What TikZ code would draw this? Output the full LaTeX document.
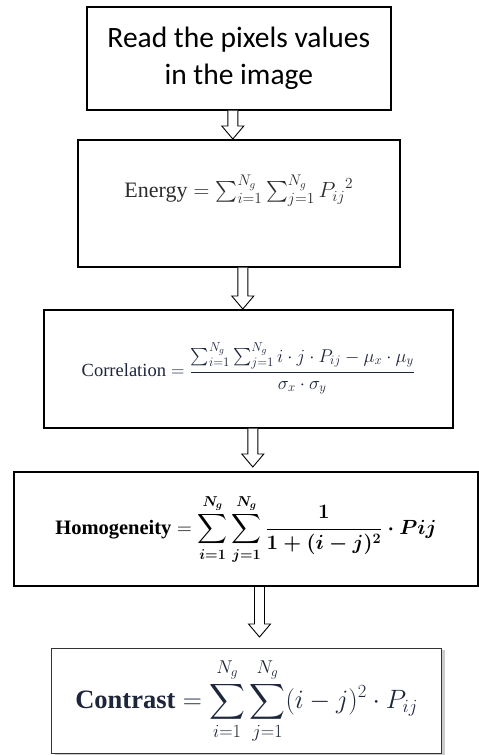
\RequirePackage{fix-cm}
\documentclass[tikz,border=0pt]{standalone}
\usepackage{amsmath}
\usepackage{fontspec}
\setmainfont{Liberation Serif}
\newfontfamily\calibri{Carlito}
\usetikzlibrary{calc,shadows}
\definecolor{inkgray}{RGB}{45,45,45}
\definecolor{inknavy}{RGB}{30,38,60}
\tikzset{
  stage/.style={draw=black, line width=1.6pt, inner sep=0pt, anchor=north west, fill=white},
  hollow/.style={draw=black, line width=0.9pt, fill=white,
    to path={let \p1=(\tikztostart), \p2=(\tikztotarget) in
      (\x1-5pt,\y1) -- (\x1-5pt,\y2+13pt) -- (\x1-11pt,\y2+13pt) -- (\x1,\y2)
      -- (\x1+11pt,\y2+13pt) -- (\x1+5pt,\y2+13pt) -- (\x1+5pt,\y1)}},
}

\begin{document}
\begin{tikzpicture}[x=1pt,y=-1pt]
  \useasboundingbox (0,0) rectangle (479,755);
  % stages
  \node[stage, align=center, minimum width=304pt, minimum height=103pt,
        font=\calibri\fontsize{29.5}{37}\selectfont] (read) at (86,6)
    {Read the pixels values\\ in the image};
  \node[stage, minimum width=322pt, text height=58pt, text depth=69pt, text=inkgray] (energy) at (77,139)
    {\fontsize{22}{26}\selectfont $\text{Energy} = \sum_{i=1}^{N_g}\sum_{j=1}^{N_g} {P_{ij}}^{2}$};
  \node[stage, minimum width=409pt, minimum height=118pt, text=inknavy] (corr) at (43,309)
    {\fontsize{18.5}{22}\selectfont $\text{Correlation} = \dfrac{\sum_{i=1}^{N_g}\sum_{j=1}^{N_g} i\cdot j\cdot P_{ij} - \mu_x\cdot\mu_y}{\sigma_x\cdot\sigma_y}$};
  \node[stage, minimum width=464pt, minimum height=114pt, line width=2pt] (homog) at (13,471)
    {\fontsize{20.5}{24}\selectfont $\displaystyle\textbf{Homogeneity} = \boldsymbol{\sum_{i=1}^{N_g}\sum_{j=1}^{N_g}\frac{1}{1+(i-j)^2}\cdot Pij}$};
  \node[stage, minimum width=390pt, minimum height=105pt, line width=1.2pt, text=inknavy, draw=black!80,
        drop shadow={opacity=0.4, shadow xshift=3pt, shadow yshift=-1pt}] (contrast) at (51,648)
    {\fontsize{26.5}{31}\selectfont $\displaystyle\textbf{Contrast} = \sum_{i=1}^{N_g}\sum_{j=1}^{N_g}(i-j)^2\cdot P_{ij}$};
  % arrows
  \draw[hollow] ($(read.south)+(-6,0)$) to ($(read.south |- energy.north)+(-6,0)$);
  \draw[hollow] ($(energy.south)+(4,0)$) to ($(energy.south |- corr.north)+(4,0)$);
  \draw[hollow] ($(corr.south)+(4.5,0)$) to ($(corr.south |- homog.north)+(4.5,-4)$);
  \draw[hollow] ($(homog.south)+(13.5,0)$) to ($(homog.south |- contrast.north)+(13.5,-11)$);
\end{tikzpicture}
\end{document}
